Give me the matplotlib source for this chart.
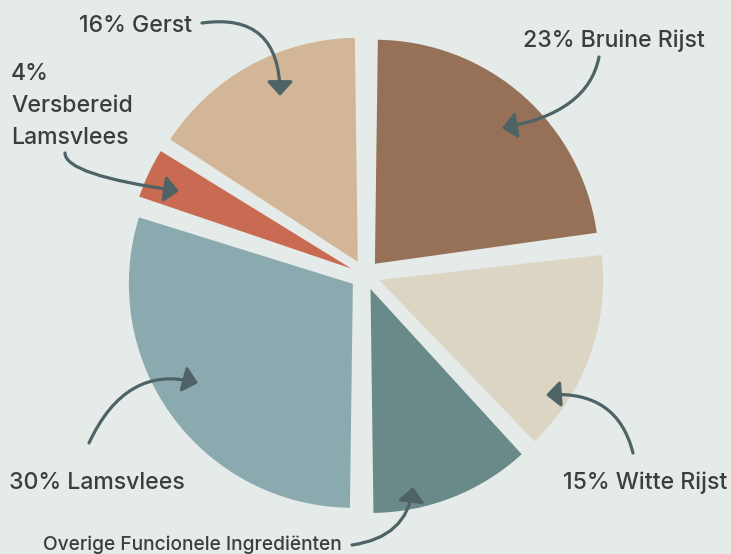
import matplotlib.pyplot as plt

W, H = 731, 554
BG = '#e4ebe8'
TEXT = '#3a3f3d'
ARROW = '#4e6366'

labels = ['Gerst', 'Versbereid Lamsvlees', 'Lamsvlees',
          'Overige Funcionele Ingrediënten', 'Witte Rijst', 'Bruine Rijst']
shares = [16, 4, 30, 12, 15, 23]
colors = ['#d3b597', '#c96a52', '#8baab0', '#6a8a89', '#ddd5c4', '#967057']

plt.rcParams['font.family'] = ['Inter', 'DejaVu Sans']

fig = plt.figure(figsize=(W / 100, H / 100), dpi=100)
fig.patch.set_facecolor(BG)
ax = fig.add_axes([0, 0, 1, 1])
ax.set_facecolor(BG)

# explode is in data units here (axes are in pixels)
wedges, _ = ax.pie(shares, colors=colors, startangle=90, counterclock=True,
                   explode=[15] * len(shares), center=(365, H - 275),
                   radius=224, frame=True)
# small angular padding between the slices
for w in wedges:
    w.set_theta1(w.theta1 + 0.75)
    w.set_theta2(w.theta2 - 0.75)
ax.set_xlim(0, W)
ax.set_ylim(0, H)
ax.set_aspect('equal')
ax.axis('off')


def px(x, y):
    return x, H - y


def label(x, y, s, size=16.6, **kw):
    ax.text(*px(x, y), s, fontsize=size, color=TEXT, ha='left',
            va='baseline', fontweight='medium', **kw)


def arrow(start, end, a, b):
    ax.annotate('', xy=px(*end), xytext=px(*start),
                arrowprops=dict(arrowstyle='-|>,head_length=0.86,head_width=0.78',
                                mutation_scale=10, color=ARROW, lw=2.3,
                                shrinkA=0, shrinkB=0,
                                connectionstyle=f'angle3,angleA={a},angleB={b}'))


label(79, 32, f'{shares[0]}% {labels[0]}')
label(11, 144, f'{shares[1]}%\nVersbereid\nLamsvlees', linespacing=1.6)
label(9, 489, f'{shares[2]}% {labels[2]}')
label(43, 550, labels[3], size=13.8)
label(563, 489, f'{shares[4]}% {labels[4]}')
label(523, 47, f'{shares[5]}% {labels[5]}')

arrow((202, 23), (280, 96), 8, 90)
arrow((65, 153), (179, 191), 90, -8)
arrow((89, 443), (198, 383), 65, -15)
arrow((352, 545), (413, 487), 8, 83)
arrow((633, 453), (546, 395), 104, 4)
arrow((599, 57), (502, 128), 79, 10)

fig.savefig('out.png', dpi=100, facecolor=BG)
